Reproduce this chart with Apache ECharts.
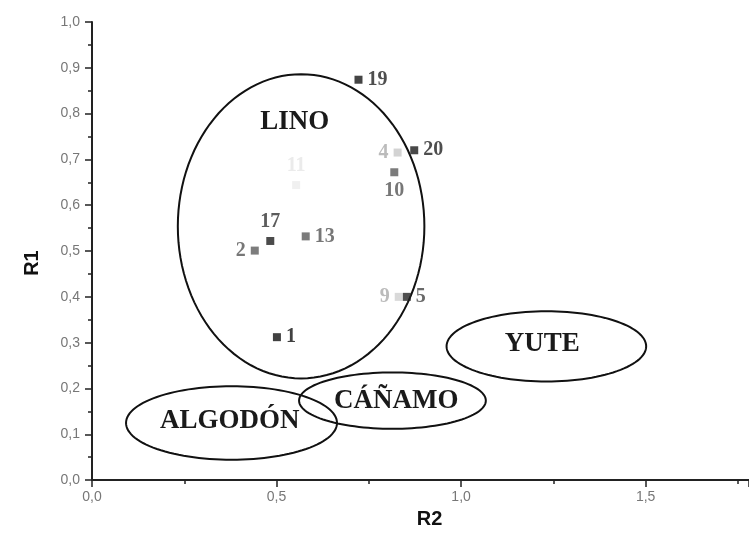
<!DOCTYPE html>
<html>
<head>
<meta charset="utf-8">
<script src="https://cdn.jsdelivr.net/npm/echarts@6/dist/echarts.min.js"></script>
<style>html,body{margin:0;padding:0;background:#fff}#c{width:749px;height:534px}</style>
</head>
<body>
<div id="c"></div>
<script>
// Sample points (R2 on x, R1 on y)
const pointLabels = ['19', '4', '20', '10', '11', '17', '2', '13', '9', '5', '1'];
const r2Values = [0.722, 0.828, 0.873, 0.819, 0.553, 0.483, 0.441, 0.579, 0.831, 0.853, 0.501];
const r1Values = [0.874, 0.715, 0.720, 0.672, 0.644, 0.522, 0.501, 0.532, 0.400, 0.400, 0.312];

// Fibre group ellipses (data units)
const groupNames = ['LINO', 'ALGODÓN', 'CÁÑAMO', 'YUTE'];
const groupCx = [0.5665, 0.378, 0.814, 1.231];
const groupCy = [0.554, 0.1247, 0.1735, 0.292];
const groupRx = [0.334, 0.2858, 0.253, 0.2704];
const groupRy = [0.332, 0.0803, 0.0615, 0.0767];
const groupTextX = [0.549, 0.373, 0.824, 1.220];
const groupTextY = [0.782, 0.128, 0.173, 0.298];

// Axis ticks
const xTickLabels = ['0,0', '0,5', '1,0', '1,5'];
const yTickLabels = ['0,0', '0,1', '0,2', '0,3', '0,4', '0,5', '0,6', '0,7', '0,8', '0,9', '1,0'];

// Styles (kept apart from data)
const pointColor = {
  '19': '#151515', '4': '#c8c8c8', '20': '#1a1a1a', '10': '#5a5a5a', '11': '#ececec',
  '17': '#1e1e1e', '2': '#5c5c5c', '13': '#5a5a5a', '9': '#cfcfcf', '5': '#222222', '1': '#111111'
};
const labelColor = {
  '19': '#222', '4': '#aaa', '20': '#222', '10': '#555', '11': '#e6e6e6',
  '17': '#333', '2': '#555', '13': '#555', '9': '#aaa', '5': '#444', '1': '#111'
};
const labelPos = {
  '19': 'right', '4': 'left', '20': 'right', '10': 'bottom', '11': 'top',
  '17': 'top', '2': 'left', '13': 'right', '9': 'left', '5': 'right', '1': 'right'
};

const scatterData = pointLabels.map((l, i) => ({
  value: [r2Values[i], r1Values[i]],
  name: l,
  itemStyle: { color: pointColor[l] },
  label: { position: labelPos[l], color: labelColor[l] }
}));

const ellipseData = groupNames.map((n, i) => [groupCx[i], groupCy[i], groupRx[i], groupRy[i], groupTextX[i], groupTextY[i], n]);

const chart = echarts.init(document.getElementById('c'));
chart.setOption({
  animation: false,
  grid: { left: 92, right: 0, top: 22, bottom: 43 },
  xAxis: {
    type: 'value', min: 0, max: 1.78, interval: 0.5,
    name: 'R2', nameLocation: 'middle', nameGap: 25,
    nameTextStyle: { fontFamily: 'Liberation Sans', fontWeight: 'bold', fontSize: 20, color: '#111', padding: [0, 0, 0, 18] },
    axisLine: { lineStyle: { color: '#222', width: 2 } },
    axisTick: { length: 7, lineStyle: { color: '#222', width: 1.5 } },
    minorTick: { show: true, splitNumber: 2, length: 4, lineStyle: { color: '#222', width: 1.5 } },
    splitLine: { show: false },
    axisLabel: {
      showMaxLabel: false, margin: 10, fontFamily: 'Liberation Sans', fontSize: 14, color: '#777',
      formatter: v => { const k = Math.round(v / 0.5); return Math.abs(v - k * 0.5) < 1e-6 ? (xTickLabels[k] || '') : ''; }
    }
  },
  yAxis: {
    type: 'value', min: 0, max: 1, interval: 0.1,
    name: 'R1', nameLocation: 'middle', nameGap: 50,
    nameTextStyle: { fontFamily: 'Liberation Sans', fontWeight: 'bold', fontSize: 20, color: '#111', padding: [0, 0, 0, -24] },
    axisLine: { show: true, lineStyle: { color: '#222', width: 2 } },
    axisTick: { show: true, length: 7, lineStyle: { color: '#222', width: 1.5 } },
    minorTick: { show: true, splitNumber: 2, length: 4, lineStyle: { color: '#222', width: 1.5 } },
    splitLine: { show: false },
    axisLabel: {
      margin: 12, fontFamily: 'Liberation Sans', fontSize: 14, color: '#777',
      formatter: v => yTickLabels[Math.round(v * 10)] || ''
    }
  },
  series: [
    {
      type: 'custom',
      data: ellipseData,
      silent: true,
      z: 1,
      renderItem: (params, api) => {
        const cx = api.value(0), cy = api.value(1), rx = api.value(2), ry = api.value(3);
        const pts = [];
        for (let k = 0; k < 120; k++) {
          const t = k / 120 * Math.PI * 2;
          pts.push(api.coord([cx + rx * Math.cos(t), cy + ry * Math.sin(t)]));
        }
        const tp = api.coord([api.value(4), api.value(5)]);
        return {
          type: 'group',
          children: [
            { type: 'polygon', shape: { points: pts }, style: { fill: 'none', stroke: '#111', lineWidth: 2 } },
            { type: 'text', x: tp[0], y: tp[1], style: {
              text: ellipseData[params.dataIndex][6], textAlign: 'center', textVerticalAlign: 'middle',
              font: 'bold 27px "Liberation Serif"', fill: '#1a1a1a' } }
          ]
        };
      }
    },
    {
      type: 'scatter',
      symbol: 'rect',
      symbolSize: 8,
      z: 3,
      data: scatterData,
      label: {
        show: true, formatter: p => p.name, distance: 5,
        fontFamily: 'Liberation Serif', fontWeight: 'bold', fontSize: 20
      }
    }
  ]
});
</script>
</body>
</html>
